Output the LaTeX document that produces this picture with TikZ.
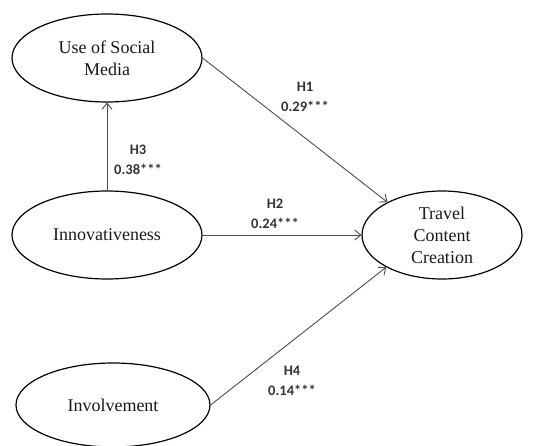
\documentclass[tikz,border=0pt]{standalone}
\usepackage{fontspec}
\setmainfont{Liberation Serif}
\newfontfamily\lblfont{Carlito}
\usetikzlibrary{shapes.geometric,arrows.meta}
\begin{document}
\begin{tikzpicture}[x=1pt,y=-1pt,
  construct/.style={ellipse,draw=black,line width=1.2pt,inner sep=0pt,
    font=\fontsize{18}{22}\selectfont,align=center,text=black!90},
  path/.style={draw=black!70,line width=0.9pt,-{Straight Barb[length=6pt,width=10pt]}},
  coef/.style={font=\lblfont\fontsize{14.5}{20}\selectfont\bfseries,align=center,text=black!80}]
\useasboundingbox (0,0) rectangle (546,446);
\node[construct,minimum width=190pt,minimum height=88pt] (use) at (107,58) {Use of Social\\Media};
\node[construct,minimum width=190pt,minimum height=88pt] (inn) at (107,235) {Innovativeness};
\node[construct,minimum width=160pt,minimum height=88pt] (tcc) at (442,235) {Travel\\Content\\Creation};
\node[construct,minimum width=194pt,minimum height=84pt] (inv) at (113,405) {Involvement};
\draw[path] (use.east) -- (tcc.149);
\draw[path] (inn.north) -- (use.south);
\draw[path] (inn.east) -- (tcc.west);
\draw[path] (inv.east) -- (tcc.210);
\node[coef] (h1) at (305,97) {H1\\0.29***};
\node[coef] (h3) at (138,160) {H3\\0.38***};
\node[coef] (h2) at (275,214) {H2\\0.24***};
\node[coef] (h4) at (292,381) {H4\\0.14***};
\end{tikzpicture}
\end{document}
